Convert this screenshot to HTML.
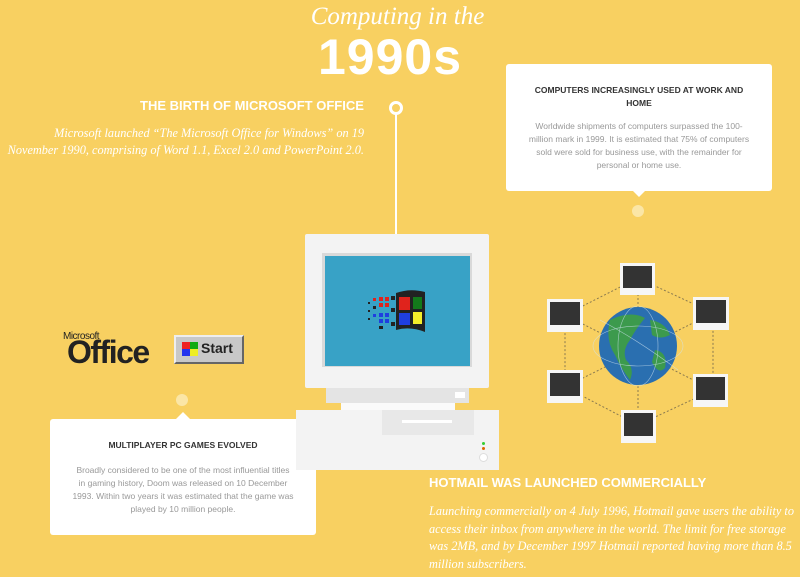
<!DOCTYPE html>
<html><head><meta charset="utf-8"><style>
*{margin:0;padding:0;box-sizing:border-box}
body{width:800px;height:577px;overflow:hidden;background:#f8d061;position:relative;font-family:"Liberation Sans",sans-serif}
.a{position:absolute}
.serif{font-family:"Liberation Serif",serif;font-style:italic;color:#fff}
.h{font-weight:bold;color:#fff;font-size:14px;letter-spacing:0.2px}
.box{background:#fff;border-radius:3px;text-align:center}
.box .t{font-weight:bold;font-size:8.5px;color:#333;margin-top:20px;line-height:13px}
.box .d{font-size:8.5px;color:#999;line-height:13px;margin-top:10px}
</style></head><body>
<div class="a serif" style="left:300px;top:3px;width:195px;text-align:center;font-size:25px;font-style:italic">Computing in the</div>
<div class="a" style="left:318px;top:28px;font-size:50px;font-weight:bold;color:#fff;letter-spacing:1px">1990s</div>
<div class="a h" style="left:140px;top:98px;font-size:13px;letter-spacing:0">THE BIRTH OF MICROSOFT OFFICE</div>
<div class="a serif" style="left:4px;top:125px;width:360px;text-align:right;font-size:12.3px;line-height:17px">Microsoft launched “The Microsoft Office for Windows” on 19 November 1990, comprising of Word 1.1, Excel 2.0 and PowerPoint 2.0.</div>
<div class="a" style="left:395px;top:112px;width:2px;height:130px;background:#fff"></div>
<div class="a" style="left:389px;top:101px;width:14px;height:14px;border:3px solid #fff;border-radius:50%;background:#f8d061"></div>

<div class="a box" style="left:506px;top:64px;width:266px;height:127px">
<div class="t">COMPUTERS INCREASINGLY USED AT WORK AND<br>HOME</div>
<div class="d">Worldwide shipments of computers surpassed the 100-<br>million mark in 1999. It is estimated that 75% of computers<br>sold were sold for business use, with the remainder for<br>personal or home use.</div></div>
<div class="a" style="left:632px;top:190px;border-left:7px solid transparent;border-right:7px solid transparent;border-top:7px solid #fff"></div>
<div class="a" style="left:632px;top:205px;width:12px;height:12px;border-radius:50%;background:#fbe6a6"></div>

<div class="a box" style="left:50px;top:419px;width:266px;height:116px">
<div class="t">MULTIPLAYER PC GAMES EVOLVED</div>
<div class="d" style="margin-top:12px">Broadly considered to be one of the most influential titles<br>in gaming history, Doom was released on 10 December<br>1993. Within two years it was estimated that the game was<br>played by 10 million people.</div></div>
<div class="a" style="left:176px;top:412px;border-left:7px solid transparent;border-right:7px solid transparent;border-bottom:7px solid #fff"></div>
<div class="a" style="left:176px;top:394px;width:12px;height:12px;border-radius:50%;background:#fbe6a6"></div>

<!-- office logo -->
<div class="a" style="left:63px;top:331px;font-size:10px;color:#222;letter-spacing:-0.5px">Microsoft</div>
<div class="a" style="left:67px;top:334px;font-size:32px;font-weight:bold;color:#222;letter-spacing:-1.5px">Office</div>
<div class="a" style="left:174px;top:335px;width:70px;height:29px;background:#c8c8c8;border:2px solid;border-color:#eee #666 #666 #eee"></div>
<div class="a" style="left:182px;top:342px;width:8px;height:7px;background:#e22"></div>
<div class="a" style="left:190px;top:342px;width:8px;height:7px;background:#1a1"></div>
<div class="a" style="left:182px;top:349px;width:8px;height:7px;background:#23e"></div>
<div class="a" style="left:190px;top:349px;width:8px;height:7px;background:#ee2"></div>
<div class="a" style="left:201px;top:340px;font-size:14px;font-weight:bold;color:#222">Start</div>

<!-- computer -->
<div class="a" style="left:305px;top:234px;width:184px;height:154px;background:#f3f3f3;border-radius:2px"></div>
<div class="a" style="left:322px;top:253px;width:150px;height:114px;background:#d9d9d9"></div>
<div class="a" style="left:325px;top:256px;width:145px;height:110px;background:#38a2c6"></div>
<svg class="a" style="left:365px;top:288px" width="65" height="45">
<g fill="#222"><path d="M31 5 Q45 0 60 4 L60 44 Q45 38 31 42Z"/></g>
<rect x="34" y="9" width="11" height="13" fill="#e0231c"/><rect x="48" y="9" width="9" height="12" fill="#137a1b"/>
<rect x="34" y="25" width="11" height="12" fill="#1f3fe0"/><rect x="48" y="24" width="9" height="12" fill="#f5ee2a"/>
<g fill="#e0231c"><rect x="8" y="10" width="3" height="3"/><rect x="14" y="9" width="4" height="4"/><rect x="20" y="9" width="4" height="4"/><rect x="14" y="15" width="4" height="4"/><rect x="20" y="15" width="4" height="4"/></g>
<g fill="#1f3fe0"><rect x="8" y="26" width="3" height="3"/><rect x="14" y="25" width="4" height="4"/><rect x="20" y="25" width="4" height="4"/><rect x="14" y="31" width="4" height="4"/><rect x="20" y="31" width="4" height="4"/></g>
<g fill="#222"><rect x="3" y="14" width="2" height="2"/><rect x="3" y="22" width="2" height="2"/><rect x="3" y="30" width="2" height="2"/><rect x="8" y="18" width="3" height="3"/><rect x="26" y="8" width="4" height="4"/><rect x="26" y="20" width="4" height="4"/><rect x="26" y="34" width="4" height="4"/><rect x="14" y="38" width="4" height="3"/></g>
</svg>
<div class="a" style="left:326px;top:388px;width:143px;height:15px;background:#e4e4e4"></div>
<div class="a" style="left:455px;top:392px;width:10px;height:6px;background:#fff"></div>
<div class="a" style="left:341px;top:403px;width:114px;height:7px;background:#fafafa"></div>
<div class="a" style="left:296px;top:410px;width:203px;height:60px;background:#f3f3f3"></div>
<div class="a" style="left:382px;top:410px;width:92px;height:25px;background:#e8e8e8"></div>
<div class="a" style="left:402px;top:420px;width:50px;height:3px;background:#fff"></div>
<div class="a" style="left:482px;top:442px;width:3px;height:3px;background:#3c3;border-radius:50%"></div>
<div class="a" style="left:482px;top:447px;width:3px;height:3px;background:#d60;border-radius:50%"></div>
<div class="a" style="left:479px;top:453px;width:9px;height:9px;background:#fff;border-radius:50%;border:1px solid #ddd"></div>

<!-- network -->
<svg class="a" style="left:530px;top:250px" width="230" height="200">
<g stroke="#8a7a50" stroke-dasharray="2 2" fill="none">
<path d="M108 28 L35 65 L35 137 L108 175 L183 140 L183 63 Z"/>
<path d="M108 28 L108 175 M35 65 L183 140 M183 63 L35 137"/>
</g>
<circle cx="108" cy="96" r="39" fill="#2a6fb0"/>
<path d="M80 70 Q100 60 115 68 Q105 80 100 90 Q92 100 96 110 Q105 118 100 130 Q92 120 85 105 Q75 90 80 70Z M120 70 Q135 72 140 85 Q130 90 122 85Z M125 100 Q138 102 135 118 Q128 125 122 112Z" fill="#3c9a4d"/>
<g stroke="#cfe3f0" stroke-width="0.6" fill="none" opacity="0.7"><ellipse cx="108" cy="96" rx="45" ry="20"/><ellipse cx="108" cy="96" rx="20" ry="40"/><path d="M70 70 Q108 90 148 120"/></g>
<g>
<g transform="translate(90,13)"><rect width="35" height="32" fill="#f6f6f6"/><rect x="3" y="3" width="29" height="22" fill="#333"/></g>
<g transform="translate(17,49)"><rect width="36" height="33" fill="#f6f6f6"/><rect x="3" y="3" width="30" height="23" fill="#333"/></g>
<g transform="translate(163,47)"><rect width="36" height="33" fill="#f6f6f6"/><rect x="3" y="3" width="30" height="23" fill="#333"/></g>
<g transform="translate(17,120)"><rect width="36" height="33" fill="#f6f6f6"/><rect x="3" y="3" width="30" height="23" fill="#333"/></g>
<g transform="translate(163,124)"><rect width="35" height="33" fill="#f6f6f6"/><rect x="3" y="3" width="29" height="23" fill="#333"/></g>
<g transform="translate(91,160)"><rect width="35" height="33" fill="#f6f6f6"/><rect x="3" y="3" width="29" height="23" fill="#333"/></g>
</g>
</svg>

<div class="a h" style="left:429px;top:475px;font-size:13px;letter-spacing:0">HOTMAIL WAS LAUNCHED COMMERCIALLY</div>
<div class="a serif" style="left:429px;top:503px;width:372px;font-size:12.3px;line-height:17.7px">Launching commercially on 4 July 1996, Hotmail gave users the ability to access their inbox from anywhere in the world. The limit for free storage was 2MB, and by December 1997 Hotmail reported having more than 8.5 million subscribers.</div>
</body></html>
